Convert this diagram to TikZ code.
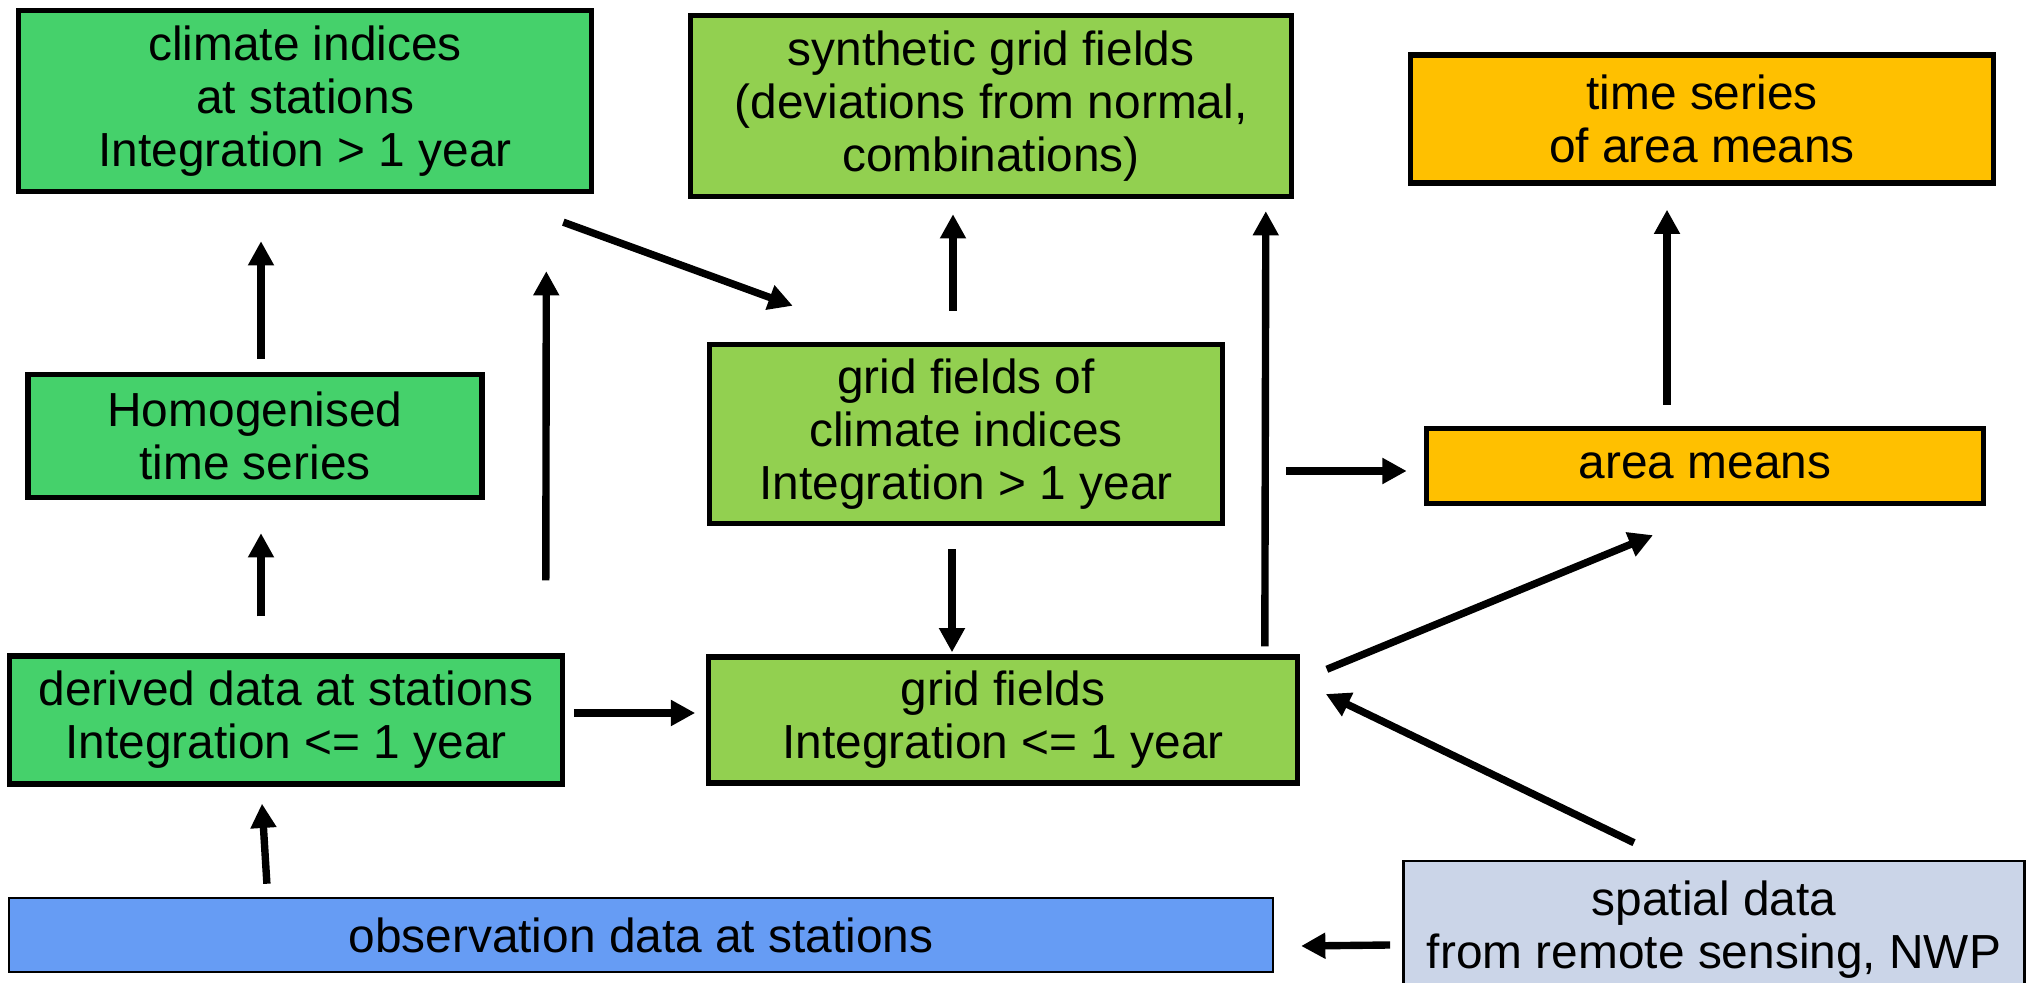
\documentclass[tikz,border=0pt]{standalone}
\usepackage{fontspec}
\setmainfont{Liberation Sans}
\usepackage{xcolor}
\usetikzlibrary{arrows.meta,calc}

\definecolor{stgreen}{HTML}{45D16B}
\definecolor{gridgreen}{HTML}{92D050}
\definecolor{meangold}{HTML}{FFC000}
\definecolor{obsblue}{HTML}{669CF4}
\definecolor{spgrey}{HTML}{CBD5E8}

\begin{document}
\begin{tikzpicture}[
    x=0.01cm, y=-0.01cm,
    box/.style={rectangle, draw, line width=1.5pt, align=center, inner sep=0pt, font=\fontsize{13.6pt}{15pt}\selectfont},
    thinbox/.style={box, line width=0.7pt},
    arrow/.style={-{Triangle[length=6.9pt,width=7pt]}, line width=2.1pt}
]
    \useasboundingbox (0,0) rectangle (2033,983);

    % Station data (left column)
    \node[box, fill=stgreen, minimum width=5.73cm, minimum height=1.81cm] (climate) at (305,101) {climate indices\\at stations\\Integration > 1 year};
    \node[box, fill=stgreen, minimum width=4.54cm, minimum height=1.23cm] (homog) at (255,436) {Homogenised\\time series};
    \node[box, fill=stgreen, minimum width=5.52cm, minimum height=1.28cm] (derived) at (286,720) {derived data at stations\\Integration <= 1 year};

    % Grid fields (middle column)
    \node[box, fill=gridgreen, minimum width=6.0cm, minimum height=1.81cm] (synth) at (991,106) {synthetic grid fields\\(deviations from normal,\\combinations)};
    \node[box, fill=gridgreen, minimum width=5.13cm, minimum height=1.79cm] (gfci) at (966,434) {grid fields of\\climate indices\\Integration > 1 year};
    \node[box, fill=gridgreen, minimum width=5.88cm, minimum height=1.26cm] (grid) at (1003,720) {grid fields\\Integration <= 1 year};

    % Area means (right column)
    \node[box, fill=meangold, minimum width=5.83cm, minimum height=1.28cm] (tsam) at (1702,119) {time series\\of area means};
    \node[box, fill=meangold, minimum width=5.57cm, minimum height=0.75cm] (area) at (1705,466) {area means};

    % Input data
    \node[thinbox, fill=obsblue, minimum width=12.63cm, minimum height=0.74cm] (obs) at (641,935) {observation data at stations};
    \node[thinbox, fill=spgrey, minimum width=6.21cm, minimum height=1.38cm] (spatial) at (1714,930) {spatial data\\from remote sensing, NWP};

    % Arrows
    \draw[arrow] ($(homog.north)+(6,-13)$) -- ($(climate.south)+(-44,47)$);
    \draw[arrow] ($(derived.north)+(-25,-37)$) -- ($(homog.south)+(6,33)$);
    \draw[arrow] ($(derived.north east)+(-19,-73)$) -- ($(climate.south east)+(-48,77)$);
    \draw[arrow] ($(climate.south east)+(-31,28)$) -- ($(gfci.north west)+(86,-36)$);
    \draw[arrow] ($(gfci.north)+(-13,-31)$) -- ($(synth.south)+(-38,15)$);
    \draw[arrow] ($(gfci.south)+(-14,23)$) -- ($(grid.north)+(-51,-2)$);
    \draw[arrow] ($(grid.north east)+(-35,-8)$) -- ($(synth.south east)+(-28,12)$);
    \draw[arrow] ($(derived.east)+(9,-7)$) -- ($(grid.west)+(-11,-7)$);
    \draw[arrow] ($(gfci.east)+(61,37)$) -- ($(area.west)+(-17,5)$);
    \draw[arrow] ($(area.north)+(-38,-21)$) -- ($(tsam.south)+(-35,24)$);
    \draw[arrow] ($(grid.north east)+(27,15)$) -- ($(area.south)+(-52,29)$);
    \draw[arrow] ($(spatial.north)+(-80,-17)$) -- ($(grid.east)+(26,-26)$);
    \draw[arrow] ($(spatial.west)+(-12,15)$) -- ($(obs.east)+(27,11)$);
    \draw[arrow] ($(obs.north west)+(259,-13)$) -- ($(derived.south)+(-24,17)$);
\end{tikzpicture}
\end{document}
